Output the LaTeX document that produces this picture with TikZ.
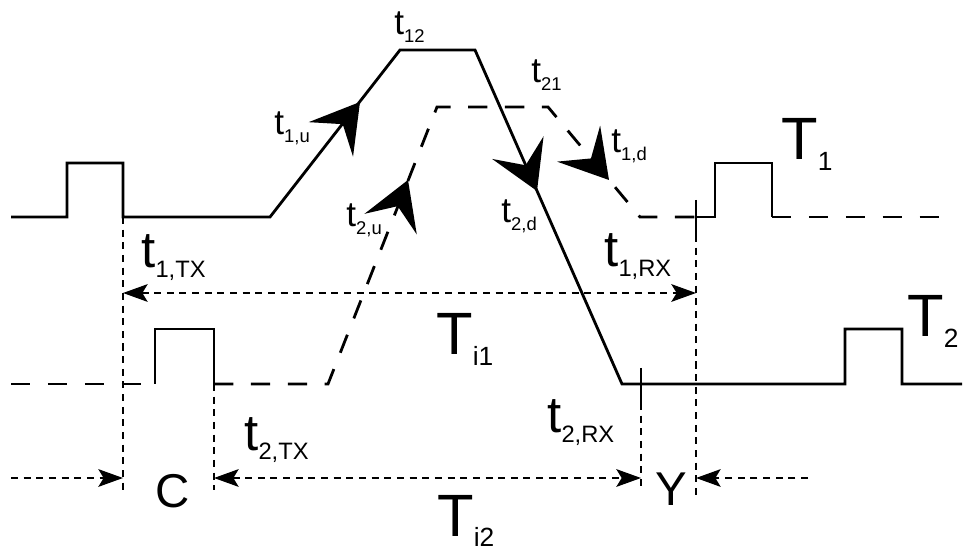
\documentclass[tikz,border=0pt]{standalone}
\usepackage{fontspec}
\setmainfont{Liberation Sans}
\usetikzlibrary{arrows.meta}

% label with lowered index
\newcommand{\bigT}[2]{{\fontsize{34}{34}\selectfont #1}\raisebox{-6pt}{\fontsize{15}{15}\selectfont #2}}
\newcommand{\midT}[2]{{\fontsize{29}{29}\selectfont #1}\raisebox{-5.5pt}{\fontsize{13.5}{13.5}\selectfont #2}}
\newcommand{\smallT}[2]{{\fontsize{20}{20}\selectfont #1}\raisebox{-4.5pt}{\fontsize{10.5}{10.5}\selectfont #2}}
% big swept arrow head at a point, turned by an angle
\newcommand{\flowhead}[2]{\fill[shift={(#1)}, rotate=#2] (0pt,0pt) -- (-27pt,16pt) -- (-16pt,0pt) -- (-27pt,-16pt) -- cycle;}

\tikzset{
  sig/.style={line width=1.6pt},
  sigdash/.style={line width=1.6pt, dash pattern=on 11pt off 10pt},
  guide/.style={line width=1.4pt, dash pattern=on 4pt off 3.2pt},
  dimline/.style={guide, {Stealth[length=14pt,width=10pt,inset=3pt]}-{Stealth[length=14pt,width=10pt,inset=3pt]}},
  dimto/.style={guide, -{Stealth[length=14pt,width=10pt,inset=3pt]}},
  lbl/.style={anchor=base west, inner sep=0pt},
}

\begin{document}
\begin{tikzpicture}[x=0.02cm, y=-0.02cm]
\useasboundingbox (0,0) rectangle (966,553);

% Key points
\coordinate (tx1) at (123,217);
\coordinate (tx2) at (214,384);
\coordinate (rx1) at (696,235);
\coordinate (rx2) at (641,403);
\coordinate (up1a) at (270,217);
\coordinate (up1b) at (400,50);
\coordinate (dn1a) at (475,50);
\coordinate (dn1b) at (622,384);
\coordinate (up2a) at (328,384);
\coordinate (up2b) at (437,107);
\coordinate (dn2a) at (548,107);
\coordinate (dn2b) at (640,217);

% T1 signal
\draw[sig] (11,217) -- (67,217) -- (67,163) -- (123,163) -- (tx1) -- (up1a)
  -- (up1b) -- (dn1a) -- (dn1b) -- (845,384) -- (845,329) -- (902,329)
  -- (902,384) -- (962,384);

% T2 signal
\draw[sigdash] (11,384) -- (155,384);
\draw[sig] (155,384) -- (155,329) -- (214,329) -- (tx2);
\draw[sigdash] (tx2) -- (up2a) -- (up2b) -- (dn2a) -- (dn2b) -- (696,217);
\draw[sig] (696,217) -- (715,217) -- (715,163) -- (772,163) -- (772,217);
\draw[sigdash] (772,217) -- (950,217);

% Direction arrows
\coordinate (h1u) at (360,102);
\coordinate (h2u) at (408,180);
\coordinate (h1d) at (537,191);
\coordinate (h2d) at (609,180);
\flowhead{h1u}{52.1}
\flowhead{h2u}{68.5}
\flowhead{h1d}{-66.2}
\flowhead{h2d}{-50.1}

% Receive ticks
\draw[sig] (696,200) -- (rx1);
\draw[sig] (641,368) -- (rx2);

% Guides
\coordinate (c1) at (123,478);
\coordinate (c2) at (214,478);
\coordinate (y1) at (641,478);
\coordinate (y2) at (696,478);
\coordinate (c0) at (11,478);
\coordinate (y3) at (808,478);
\coordinate (a1) at (123,293);
\coordinate (b1) at (696,293);
\draw[guide] (tx1) -- (123,495);
\draw[guide] (tx2) -- (214,490);
\draw[guide] (rx2) -- (641,490);
\draw[guide] (rx1) -- (696,495);

\draw[dimline] (a1) -- (b1);
\draw[dimto] (c0) -- (c1);
\draw[dimline] (c2) -- (y1);
\draw[dimto] (y3) -- (y2);

% Labels
\node[lbl] (l12) at (394,35) {\smallT{t}{12}};
\node[lbl] (l21) at (531,83) {\smallT{t}{21}};
\node[lbl] (l1u) at (274,135) {\smallT{t}{1,u}};
\node[lbl] (l2u) at (346,227) {\smallT{t}{2,u}};
\node[lbl] (l2d) at (501,223) {\smallT{t}{2,d}};
\node[lbl] (l1d) at (611,153) {\smallT{t}{1,d}};
\node[lbl] (l1tx) at (141,268) {\midT{t}{1,TX}};
\node[lbl] (l1rx) at (604,267) {\midT{t}{1,RX}};
\node[lbl] (l2tx) at (244,450) {\midT{t}{2,TX}};
\node[lbl] (l2rx) at (547,433) {\midT{t}{2,RX}};
\node[lbl] (ti1) at (436,355) {\bigT{T}{i1}};
\node[lbl] (ti2) at (437,536) {\bigT{T}{i2}};
\node[lbl] (T1) at (781,160) {\bigT{T}{1}};
\node[lbl] (T2) at (907,337) {\bigT{T}{2}};
\node[lbl, font=\fontsize{27}{27}\selectfont] (C) at (155,507) {C};
\node[lbl, font=\fontsize{27}{27}\selectfont] (Y) at (655,505) {Y};

\end{tikzpicture}
\end{document}
